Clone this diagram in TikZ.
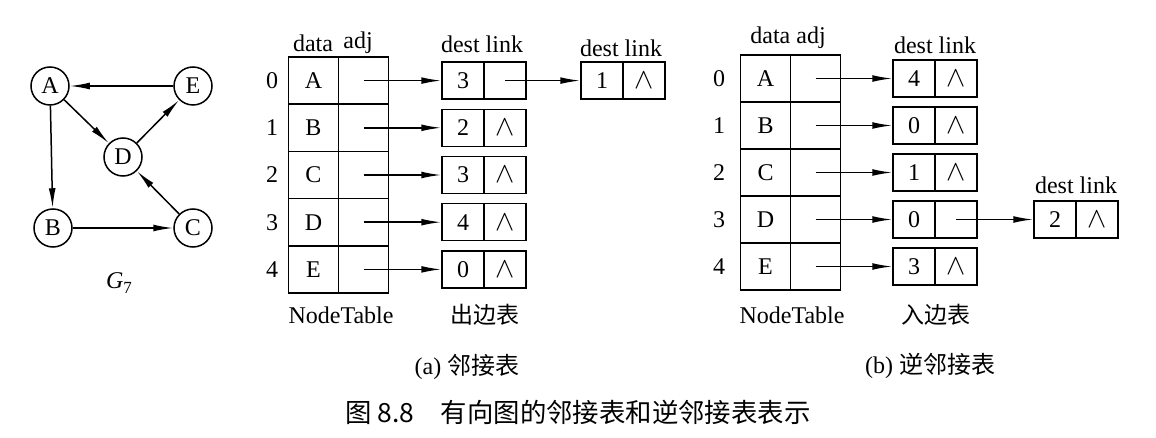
\documentclass[tikz,border=0pt]{standalone}
\usepackage{fontspec}
\setmainfont{Liberation Serif}
\newfontfamily\cjk{Noto Sans CJK SC}
\usetikzlibrary{arrows.meta}
\newcommand{\nil}{{\fontsize{15}{15}\selectfont$\wedge$}}
\begin{document}
\begin{tikzpicture}[x=0.5pt,y=-0.5pt,
  font=\fontsize{12}{14}\selectfont, line width=0.75pt,
  vert/.style={circle,draw,minimum size=19pt,inner sep=0pt},
  tcell/.style={draw,minimum width=25pt,minimum height=23.5pt,inner sep=0pt},
  ecell/.style={draw,minimum width=21pt,minimum height=18.5pt,inner sep=0pt},
  arr/.style={-{Latex[length=10pt,width=3.4pt]}},
  lbl/.style={inner sep=0pt},
  cjkl/.style={inner sep=0pt,font=\cjk\fontsize{11.5}{13}\selectfont},
  capt/.style={inner sep=0pt,font=\cjk\fontsize{13.2}{15}\selectfont}]
\useasboundingbox (0,0) rectangle (1156,438);

% graph G7
\node[vert] (A) at (50,86) {A};
\node[vert] (E) at (193,86) {E};
\node[vert] (D) at (123,157) {D};
\node[vert] (B) at (53,228) {B};
\node[vert] (C) at (193,228) {C};
\draw[arr] (E) -- (A);
\draw[arr] (A) -- (D);
\draw[arr] (D) -- (E);
\draw[arr] (A) -- (B);
\draw[arr] (B) -- (C);
\draw[arr] (C) -- (D);
\node[lbl] (g7) at (119,283) {\itshape G\raisebox{-0.5ex}{\upshape\fontsize{8.5}{9}\selectfont 7}};

% (a) adjacency list
\node[lbl] (a-h1) at (313,43) {data};
\node[lbl] (a-h2) at (358,43) {adj};
\foreach \i/\L/\y in {0/A/80.6,1/B/127.8,2/C/175,3/D/222.2,4/E/269.4} {
  \node[lbl] (a-i\i) at (272,\y) {\i};
  \node[tcell] (a-d\i) at (313.5,\y) {\L};
  \node[tcell] (a-p\i) at (363.5,\y) {};
}
\foreach \i/\v/\y/\k in {0/3/80.6/{},1/2/127.8/\nil,2/3/175/\nil,3/4/222.2/\nil,4/0/269.4/\nil} {
  \node[ecell] (a-v\i) at (463,\y) {\v};
  \node[ecell] (a-l\i) at (505,\y) {\k};
  \draw[arr] (a-p\i.center) -- (a-v\i.west);
}
\node[lbl] (a-h3) at (482,44) {dest link};
\node[ecell] (a-nv) at (602,80.6) {1};
\node[ecell] (a-nl) at (644,80.6) {\nil};
\node[lbl] (a-h4) at (621,48) {dest link};
\draw[arr] (a-l0.center) -- (a-nv.west);
\node[lbl] (a-t1) at (341,315) {NodeTable};
\node[cjkl] (a-t2) at (485,315) {出边表};
\node[lbl] (a-cap) at (467,367) {(a) {\cjk 邻接表}};

% (b) inverse adjacency list
\node[lbl] (b-h1) at (788,38) {data adj};
\foreach \i/\L/\y in {0/A/78.5,1/B/125.5,2/C/172.5,3/D/219.5,4/E/266.5} {
  \node[lbl] (b-i\i) at (719,\y) {\i};
  \node[tcell] (b-d\i) at (765.5,\y) {\L};
  \node[tcell] (b-p\i) at (815.5,\y) {};
}
\foreach \i/\v/\y/\k in {0/4/78.5/\nil,1/0/125.5/\nil,2/1/172.5/\nil,3/0/219.5/{},4/3/266.5/\nil} {
  \node[ecell] (b-v\i) at (914,\y) {\v};
  \node[ecell] (b-l\i) at (956,\y) {\k};
  \draw[arr] (b-p\i.center) -- (b-v\i.west);
}
\node[lbl] (b-h3) at (935,45) {dest link};
\node[ecell] (b-nv) at (1055,219.5) {2};
\node[ecell] (b-nl) at (1097,219.5) {\nil};
\node[lbl] (b-h4) at (1076,185) {dest link};
\draw[arr] (b-l3.center) -- (b-nv.west);
\node[lbl] (b-t1) at (792,315) {NodeTable};
\node[cjkl] (b-t2) at (936,315) {入边表};
\node[lbl] (b-cap) at (930,366) {(b) {\cjk 逆邻接表}};

% caption
\node[capt] (cap) at (578,412) {图 8.8\quad 有向图的邻接表和逆邻接表表示};
\end{tikzpicture}
\end{document}
